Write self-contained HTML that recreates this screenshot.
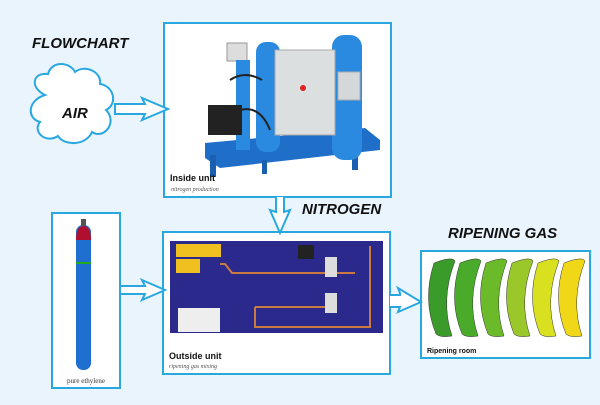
<!DOCTYPE html>
<html><head><style>
body{margin:0;width:600px;height:400px;overflow:hidden;background:#eaf4fd;font-family:"Liberation Sans",sans-serif}
</style></head><body>
<svg width="600" height="400" viewBox="0 0 600 400" xmlns="http://www.w3.org/2000/svg">
<rect width="600" height="400" fill="#eaf4fd"/>
<g fill="#fff" stroke="#29a8e0" stroke-width="2">
<rect x="164" y="23" width="227" height="174"/>
<rect x="163" y="232" width="227" height="142"/>
<rect x="52" y="213" width="68" height="175"/>
<rect x="421" y="251" width="169" height="107"/>
</g>
<text x="32" y="48" font-size="15" font-weight="bold" font-style="italic" fill="#111">FLOWCHART</text>
<path d="M45 95 C30 88 32 72 48 74 C52 60 70 62 75 72 C85 64 102 72 100 84 C114 86 118 104 106 110 C118 122 104 140 92 132 C86 146 64 146 58 136 C46 144 32 132 40 122 C26 118 28 100 45 95 Z" fill="#fff" stroke="#29a8e0" stroke-width="2"/>
<text x="62" y="118" font-size="15" font-weight="bold" font-style="italic" fill="#111">AIR</text>
<g fill="#fff" stroke="#29a8e0" stroke-width="2" stroke-linejoin="miter">
<path d="M115 104 L145 104 L142 98 L168 109 L142 120 L145 114 L115 114 Z"/>
<path d="M120 286 L145 286 L142 280 L165 290 L142 300 L145 294 L120 294 Z"/>
<path d="M390 295 L400 295 L400 293 L398 288 L421 302 L398 312 L400 307 L390 307"/>
<path d="M276 197 L276 212 L270 210 L280 233 L290 210 L284 212 L284 197"/>
</g>
<text x="302" y="214" font-size="15" font-weight="bold" font-style="italic" fill="#111">NITROGEN</text>
<text x="448" y="238" font-size="15" font-weight="bold" font-style="italic" fill="#111">RIPENING GAS</text>
<!-- inside unit machine -->
<path d="M205 143 L365 128 L380 140 L380 150 L220 168 L205 158 Z" fill="#1f6fc8"/>
<rect x="210" y="155" width="6" height="22" fill="#1a5fb0"/><rect x="352" y="148" width="6" height="22" fill="#1a5fb0"/><rect x="262" y="160" width="5" height="14" fill="#1a5fb0"/>
<rect x="256" y="42" width="24" height="110" rx="10" fill="#2a8ae0"/>
<rect x="332" y="35" width="30" height="125" rx="12" fill="#2a8ae0"/>
<rect x="275" y="50" width="60" height="85" fill="#dcdfe0" stroke="#aaa"/>
<rect x="338" y="72" width="22" height="28" fill="#d5d8da" stroke="#aaa"/>
<circle cx="303" cy="88" r="3" fill="#e02020"/>
<rect x="227" y="43" width="20" height="18" fill="#ddd" stroke="#999"/>
<rect x="236" y="60" width="14" height="90" fill="#2a8ae0"/>
<rect x="208" y="105" width="34" height="30" fill="#222"/>
<path d="M230 80 Q245 70 262 80 M240 110 Q260 105 270 130" stroke="#222" stroke-width="2" fill="none"/>
<text x="170" y="181" font-size="9" font-weight="bold" fill="#111">Inside unit</text>
<text x="171" y="191" font-size="6" font-style="italic" fill="#555" font-family="Liberation Serif">nitrogen production</text>
<!-- outside unit panel -->
<rect x="170" y="241" width="213" height="92" fill="#2b2a8c"/>
<rect x="176" y="244" width="45" height="13" fill="#f0c020"/>
<rect x="176" y="259" width="24" height="14" fill="#f0c020"/>
<rect x="178" y="308" width="42" height="24" fill="#eee"/>
<rect x="298" y="245" width="16" height="14" fill="#222"/>
<path d="M220 264 L225 264 L232 273 L300 273 L355 273 M255 307 L255 327 L370 327 L370 246 M255 307 L325 307" stroke="#c87a40" stroke-width="2" fill="none"/>
<rect x="325" y="257" width="12" height="20" fill="#ddd"/><rect x="325" y="293" width="12" height="20" fill="#ddd"/>
<text x="169" y="359" font-size="9" font-weight="bold" fill="#111">Outside unit</text>
<text x="169" y="368" font-size="6" font-style="italic" fill="#555" font-family="Liberation Serif">ripening gas mixing</text>
<!-- cylinder -->
<rect x="76" y="225" width="15" height="145" rx="7" fill="#1f6fd0"/>
<path d="M76 240 Q76 226 83.5 226 Q91 226 91 240 Z" fill="#b01030"/>
<rect x="81" y="219" width="5" height="7" fill="#555"/>
<rect x="76" y="262" width="15" height="2" fill="#2a2"/>
<text x="86" y="383" font-size="7" text-anchor="middle" fill="#333" font-family="Liberation Serif">pure ethylene</text>
<!-- bananas -->
<g stroke="#333" stroke-width=".5">
<path d="M434 263 Q452 256 455 261 Q440 300 452 336 Q440 338 436 334 Q422 300 434 263Z" fill="#3a9a2a"/>
<path d="M460 263 Q478 256 481 261 Q466 300 478 336 Q466 338 462 334 Q448 300 460 263Z" fill="#4aaa2a"/>
<path d="M486 263 Q504 256 507 261 Q492 300 504 336 Q492 338 488 334 Q474 300 486 263Z" fill="#6aba2a"/>
<path d="M512 263 Q530 256 533 261 Q518 300 530 336 Q518 338 514 334 Q500 300 512 263Z" fill="#9ac82a"/>
<path d="M538 263 Q556 256 559 261 Q544 300 556 336 Q544 338 540 334 Q526 300 538 263Z" fill="#d8e020"/>
<path d="M564 263 Q582 256 585 261 Q570 300 582 336 Q570 338 566 334 Q552 300 564 263Z" fill="#f0d818"/>
</g>
<text x="427" y="353" font-size="7" font-weight="bold" fill="#111">Ripening room</text>
</svg>
</body></html>
